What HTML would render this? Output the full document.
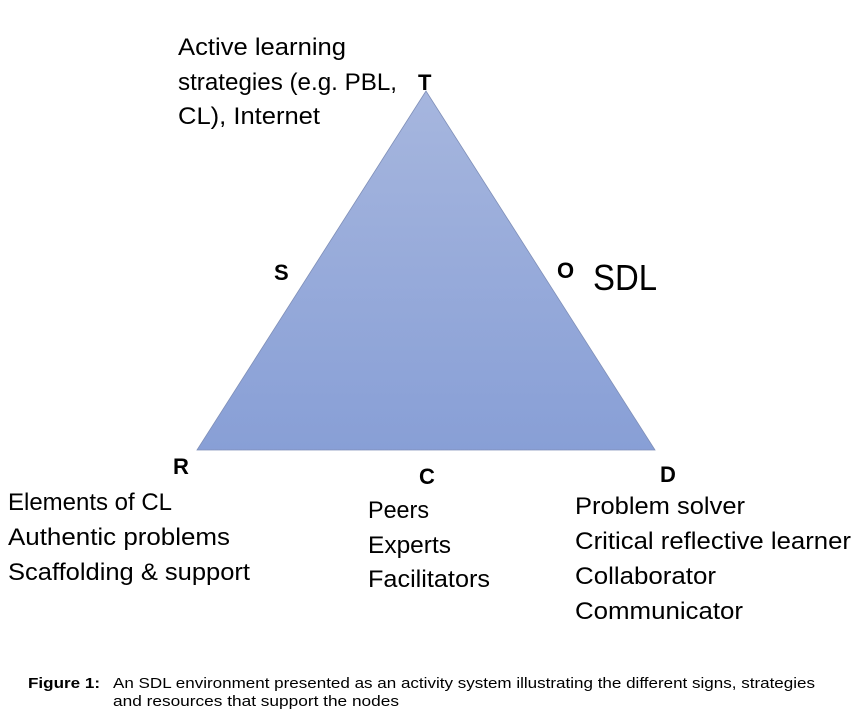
<!DOCTYPE html>
<html><head><meta charset="utf-8"><style>
html,body{margin:0;padding:0;background:#fff;}
svg{display:block}
text{font-family:"Liberation Sans",sans-serif;fill:#000}
</style></head><body>
<svg width="860" height="721" viewBox="0 0 860 721" xmlns="http://www.w3.org/2000/svg">
<defs><linearGradient id="g" x1="0" y1="0" x2="0" y2="1">
<stop offset="0" stop-color="#a6b6de"/><stop offset="1" stop-color="#889fd6"/></linearGradient></defs>
<polygon points="426,91 197,450 655,450" fill="url(#g)" stroke="#7f8fb8" stroke-width="0.8"/>
<g font-size="24">
<text x="178" y="55" textLength="168" lengthAdjust="spacingAndGlyphs">Active learning</text>
<text x="178" y="90" textLength="219" lengthAdjust="spacingAndGlyphs">strategies (e.g. PBL,</text>
<text x="178" y="124" textLength="142" lengthAdjust="spacingAndGlyphs">CL), Internet</text>
<text x="8" y="510" textLength="164" lengthAdjust="spacingAndGlyphs">Elements of CL</text>
<text x="8" y="545" textLength="222" lengthAdjust="spacingAndGlyphs">Authentic problems</text>
<text x="8" y="580" textLength="242" lengthAdjust="spacingAndGlyphs">Scaffolding &amp; support</text>
<text x="368" y="518" textLength="61" lengthAdjust="spacingAndGlyphs">Peers</text>
<text x="368" y="553" textLength="83" lengthAdjust="spacingAndGlyphs">Experts</text>
<text x="368" y="587" textLength="122" lengthAdjust="spacingAndGlyphs">Facilitators</text>
<text x="575" y="514" textLength="170" lengthAdjust="spacingAndGlyphs">Problem solver</text>
<text x="575" y="549" textLength="276" lengthAdjust="spacingAndGlyphs">Critical reflective learner</text>
<text x="575" y="584" textLength="141" lengthAdjust="spacingAndGlyphs">Collaborator</text>
<text x="575" y="619" textLength="168" lengthAdjust="spacingAndGlyphs">Communicator</text>
</g>
<g font-size="22" font-weight="bold">
<text x="418" y="90">T</text>
<text x="274" y="280">S</text>
<text x="557" y="278">O</text>
<text x="173" y="474">R</text>
<text x="419" y="484">C</text>
<text x="660" y="482">D</text>
</g>
<text x="593" y="290" font-size="36" textLength="64" lengthAdjust="spacingAndGlyphs">SDL</text>
<text x="28" y="688" font-size="15" font-weight="bold" textLength="72" lengthAdjust="spacingAndGlyphs">Figure 1:</text>
<text x="113" y="688" font-size="15" textLength="702" lengthAdjust="spacingAndGlyphs">An SDL environment presented as an activity system illustrating the different signs, strategies</text>
<text x="113" y="706" font-size="15" textLength="286" lengthAdjust="spacingAndGlyphs">and resources that support the nodes</text>
</svg>
</body></html>
